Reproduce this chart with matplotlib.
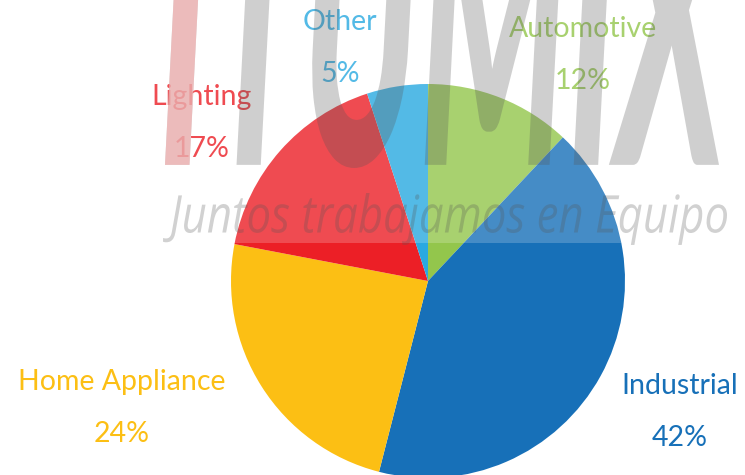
import matplotlib
matplotlib.use("Agg")
import matplotlib.pyplot as plt
from matplotlib.textpath import TextPath
from matplotlib.patches import PathPatch, Rectangle
from matplotlib.font_manager import FontProperties
from matplotlib.transforms import Affine2D

# Market share by application
labels = ['Automotive', 'Industrial', 'Home Appliance', 'Lighting', 'Other']
shares = [12, 42, 24, 17, 5]
colors = ['#93C64C', '#1770B8', '#FCBF14', '#EC1F26', '#29A9E1']

# label anchor points in pixels (x, y from top) for name / percentage
label_pos = [(583, 29), (680, 386), (122, 382), (202, 97), (340, 22)]

W, H = 745, 475


def fit_transform(text, box, prop):
    """Transform that puts TextPath(text) into box = (x0, y0, x1, y1)."""
    ext = TextPath((0, 0), text, size=1, prop=prop).get_extents()
    x0, y0, x1, y1 = box
    return (Affine2D().translate(-ext.x0, -ext.y0)
            .scale((x1 - x0) / ext.width, (y1 - y0) / ext.height)
            .translate(x0, y0))


fig = plt.figure(figsize=(W / 100, H / 100), dpi=100)
ax = fig.add_axes([0, 0, 1, 1])

ax.pie(shares, colors=colors, startangle=90, counterclock=False,
       center=(428, H - 281), radius=197, frame=True,
       wedgeprops=dict(linewidth=0))

for name, pct, col, (x, y) in zip(labels, shares, colors, label_pos):
    ax.text(x, H - y, name, color=col, fontsize=20.5, family='Lato',
            ha='center', va='center')
    ax.text(x, H - y - 52, f'{pct}%', color=col, fontsize=20.5, family='Lato',
            ha='center', va='center')

# watermark: light veil + logo letters + tagline
ax.add_patch(Rectangle((150, H - 243), W - 150, 243, facecolor='white',
                       alpha=0.2, edgecolor='none', zorder=5))
heavy = FontProperties(family='Lato', weight='black', style='italic')
tr = fit_transform('ITUMIX', (165, H - 168, 730, H + 120), heavy)
logo = tr.transform_path(TextPath((0, 0), 'ITUMIX', size=1, prop=heavy))
first = tr.transform_path(TextPath((0, 0), 'I', size=1, prop=heavy))
ax.add_patch(PathPatch(logo, facecolor='#555555', edgecolor='none',
                       alpha=0.28, zorder=6))
ax.add_patch(PathPatch(first, facecolor='#F7B5B5', edgecolor='none',
                       alpha=0.75, zorder=6))
tag_font = FontProperties(family='Open Sans', style='italic')
tag = fit_transform('Juntos trabajamos en Equipo', (163, H - 245, 727, H - 193),
                    tag_font).transform_path(
    TextPath((0, 0), 'Juntos trabajamos en Equipo', size=1, prop=tag_font))
ax.add_patch(PathPatch(tag, facecolor='#555555', edgecolor='none',
                       alpha=0.27, zorder=6))

ax.set_xlim(0, W)
ax.set_ylim(0, H)
ax.set_aspect('auto')
ax.axis('off')

fig.savefig('out.png', dpi=100)
